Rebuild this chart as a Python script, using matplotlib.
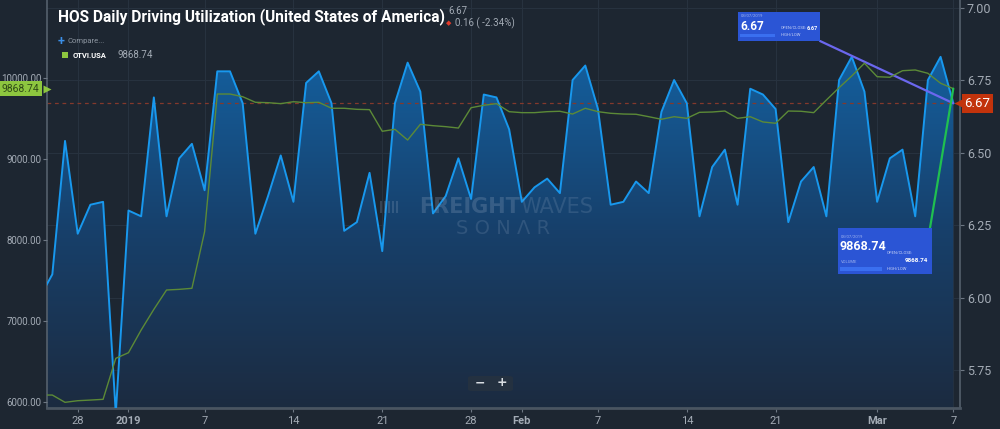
import numpy as np
import pandas as pd
import matplotlib
matplotlib.use('Agg')
import matplotlib.pyplot as plt
import matplotlib.dates as mdates
from matplotlib.colors import LinearSegmentedColormap
from matplotlib.patches import Rectangle, FancyBboxPatch

# data
dates = pd.date_range('2018-12-25', '2019-03-07', freq='D')
hos = [6.00, 6.08, 6.54, 6.22, 6.32, 6.33, 5.60,
       6.30, 6.28, 6.69, 6.28, 6.48, 6.53, 6.37, 6.78, 6.78, 6.67,
       6.22, 6.35, 6.49, 6.33, 6.74, 6.78, 6.67, 6.23, 6.26, 6.43,
       6.16, 6.67, 6.81, 6.71, 6.29, 6.35, 6.48, 6.34, 6.70, 6.69, 6.58,
       6.33, 6.38, 6.41, 6.36, 6.75, 6.80, 6.65, 6.32, 6.33, 6.40,
       6.36, 6.64, 6.75, 6.67, 6.28, 6.45, 6.51, 6.32, 6.72, 6.70,
       6.65, 6.26, 6.40, 6.45, 6.28, 6.75, 6.83, 6.71,
       6.33, 6.48, 6.51, 6.28, 6.75, 6.83, 6.67]
otvi = [6085, 6085, 5995, 6015, 6023, 6032, 6538,
        6608, 6888, 7143, 7382, 7390, 7403, 8102, 9802, 9802, 9769,
        9700, 9695, 9683, 9707, 9695, 9700, 9626, 9626, 9613, 9609,
        9342, 9366, 9234, 9428, 9411, 9399, 9382, 9633, 9663, 9683, 9584,
        9572, 9572, 9584, 9589, 9555, 9626, 9584, 9564, 9555, 9552,
        9522, 9490, 9522, 9502, 9576, 9580, 9592, 9502, 9522, 9457,
        9441, 9592, 9589, 9572, 9728, 9880, 10025, 10182,
        10016, 10009, 10090, 10099, 10058, 9935, 9868.74]
hos_last = 6.67
otvi_last = 9868.74
tick_dates = pd.to_datetime(['2018-12-28', '2019-01-01', '2019-01-07', '2019-01-14',
                             '2019-01-21', '2019-01-28', '2019-02-01', '2019-02-07',
                             '2019-02-14', '2019-02-21', '2019-03-01', '2019-03-07'])
tick_labels = ['28', '2019', '7', '14', '21', '28', 'Feb', '7', '14', '21', 'Mar', '7']
hos_ticks = [5.75, 6.00, 6.25, 6.50, 6.75, 7.00]
otvi_ticks = [6000, 7000, 8000, 9000, 10000]

bg = '#1d2631'
grid_c = '#27323f'
txt_c = '#a3abb5'
plt.rcParams['font.family'] = ['Roboto', 'DejaVu Sans']

x = mdates.date2num(dates)
fig = plt.figure(figsize=(10, 4.29), dpi=100, facecolor=bg)
ax = fig.add_axes([0.047, 1 - 408 / 429, 0.913, 408 / 429])
ax.set_facecolor(bg)
ax2 = ax.twinx()  # OTVI, ticks on the left

xlo, xhi = x[0] + 0.58, x[-1] + 0.53
ylo, yhi = 5.619, 7.026

# gradient filled area for HOS
poly = ax.fill_between(x, hos, ylo - 1, color='none', lw=0)
cmap = LinearSegmentedColormap.from_list('fill', ['#1c2b40', '#17406b', '#14609f'])
grad = np.linspace(0, 1, 256).reshape(-1, 1)
im = ax.imshow(grad, extent=[xlo, xhi, ylo, 6.85], origin='lower', aspect='auto',
               cmap=cmap, zorder=1)
im.set_clip_path(poly.get_paths()[0], transform=ax.transData)
ax.plot(x, hos, color='#1898ee', lw=1.4, zorder=3)

ax.set_xlim(xlo, xhi)
ax.set_ylim(ylo, yhi)
ax.yaxis.tick_right()
ax.set_yticks(hos_ticks)
ax.set_yticklabels([f'{v:.2f}' for v in hos_ticks])
ax.set_xticks(mdates.date2num(tick_dates))
ax.set_xticklabels(tick_labels)
for lab in ax.get_xticklabels():
    if lab.get_text() in ('2019', 'Feb', 'Mar'):
        lab.set_fontweight('bold')
        lab.set_color('#d5dae0')
ax.tick_params(axis='y', colors='#6d7783', labelcolor=txt_c, labelsize=9, length=3, pad=2)
ax.tick_params(axis='x', colors='#6d7783', labelcolor=txt_c, labelsize=8, length=3, pad=3)
ax.grid(True, color=grid_c, lw=0.8, zorder=0)
ax.set_axisbelow(True)
for s in ['left', 'right']:
    ax.spines[s].set_color('#55606c')
    ax.spines[s].set_linewidth(1.2)
ax.spines['bottom'].set_color('#4a5561')
ax.spines['bottom'].set_linewidth(2)
ax.spines['top'].set_visible(False)

# last value dashed line
ax.axhline(hos_last, color='#84392c', lw=0.9, ls=(0, (3, 3)), zorder=2)

# OTVI on the left axis
ax2.plot(x, otvi, color='#5c8a37', lw=1.0, zorder=4)
ax2.set_ylim(5925, 10963)
ax2.yaxis.tick_left()
ax2.yaxis.set_label_position('left')
ax2.set_yticks(otvi_ticks)
ax2.set_yticklabels([f'{v:.2f}' for v in otvi_ticks])
ax2.tick_params(axis='y', colors='#6d7783', labelcolor=txt_c, labelsize=7, length=3, pad=1)
for s in ax2.spines.values():
    s.set_visible(False)
ax2.set_xlim(xlo, xhi)

# value tags
ax2.text(-0.008, otvi_last, f'{otvi_last:.2f}', transform=ax2.get_yaxis_transform(),
         ha='right', va='center', fontsize=7.5, color='#2f4a17', zorder=10,
         bbox=dict(boxstyle='square,pad=0.25', fc='#8dc63f', ec='none'))
ax2.plot([0.0], [otvi_last], marker='>', ms=6, color='#8dc63f', mec='none',
         transform=ax2.get_yaxis_transform(), clip_on=False, zorder=10)
ax.text(1.005, hos_last, f'{hos_last:.2f}', transform=ax.get_yaxis_transform(),
        ha='left', va='center', fontsize=9.5, color='white', zorder=10,
        bbox=dict(boxstyle='square,pad=0.22', fc='#c2330c', ec='none'))
ax.plot([0.999], [hos_last], marker='<', ms=7, color='#c2330c', mec='none',
        transform=ax.get_yaxis_transform(), clip_on=False, zorder=10)

# title and legend
fig.text(0.058, 1 - 17 / 429, 'HOS Daily Driving Utilization (United States of America)',
         fontsize=11.2, fontweight='bold', color='white', va='center')
fig.text(0.448, 1 - 11 / 429, '6.67', fontsize=7, color=txt_c, va='center')
fig.text(0.446, 1 - 23.5 / 429, '\u25c6', fontsize=5, color='#e03a2a', va='center',
         family='DejaVu Sans')
fig.text(0.455, 1 - 23.5 / 429, '0.16 ( -2.34%)', fontsize=7, color=txt_c, va='center')
fig.text(0.058, 1 - 41 / 429, '+', fontsize=9, color='#3b8fe8', va='center', fontweight='bold')
fig.text(0.068, 1 - 41 / 429, 'Compare...', fontsize=5.5, color='#8c95a0', va='center')
fig.patches.append(Rectangle((0.062, 1 - 58 / 429), 0.006, 6 / 429, transform=fig.transFigure,
                             fc='#8dc63f', ec='none'))
fig.text(0.073, 1 - 55 / 429, 'OTVI.USA', fontsize=5.5, color='white', fontweight='bold', va='center')
fig.text(0.117, 1 - 55 / 429, '9868.74', fontsize=7, color=txt_c, va='center')

# watermark
fig.text(0.52, 1 - 207 / 429, 'FREIGHT', fontsize=15, fontweight='bold', color='#8aa0bb',
         alpha=0.28, ha='right', va='center', family=['DejaVu Sans'])
fig.text(0.52, 1 - 207 / 429, 'WAVES', fontsize=15, color='#8aa0bb', alpha=0.22,
         ha='left', va='center', family=['DejaVu Sans'])
fig.text(0.503, 1 - 229 / 429, 'S O N \u039b R', fontsize=14, color='#8aa0bb', alpha=0.22,
         ha='center', va='center', family=['DejaVu Sans'])
for i in range(5):
    fig.patches.append(Rectangle(((380 + i * 4) / 1000, 1 - 213 / 429), 0.0015, 12 / 429,
                                 transform=fig.transFigure, fc='#8aa0bb', alpha=0.25, ec='none'))

# zoom buttons
fig.patches.append(FancyBboxPatch((468 / 1000, 1 - 391 / 429), 45 / 1000, 15 / 429,
                                  boxstyle='round,pad=0,rounding_size=0.004',
                                  transform=fig.transFigure, fc='#243140', ec='none'))
fig.text(0.480, 1 - 383 / 429, '\u2212', fontsize=9, color='#d8dde2', ha='center', va='center',
         family='DejaVu Sans', fontweight='bold')
fig.text(0.502, 1 - 383 / 429, '+', fontsize=9, color='#d8dde2', ha='center', va='center',
         family='DejaVu Sans', fontweight='bold')

# tooltip boxes with connectors
fig.patches.append(Rectangle((738 / 1000, 1 - 41 / 429), 82 / 1000, 29 / 429,
                             transform=fig.transFigure, fc='#2b55d5', ec='none', zorder=20))
fig.text(0.741, 1 - 16 / 429, '03/07/2019', fontsize=3, color='#9fb3ee', va='center', zorder=21)
fig.text(0.740, 1 - 27 / 429, '6.67', fontsize=8.5, color='white', fontweight='bold', va='center', zorder=21)
fig.text(0.781, 1 - 28 / 429, 'OPEN/CLOSE:', fontsize=3, color='#c8d3f5', va='center', zorder=21)
fig.text(0.818, 1 - 28 / 429, '6.67', fontsize=4, color='white', fontweight='bold', ha='right', va='center', zorder=21)
fig.text(0.781, 1 - 35 / 429, 'HIGH/LOW', fontsize=3, color='#c8d3f5', va='center', zorder=21)
fig.patches.append(Rectangle((740 / 1000, 1 - 37 / 429), 35 / 1000, 3 / 429,
                             transform=fig.transFigure, fc='#3a6ff0', ec='none', zorder=21))
ax.annotate('', xy=(x[-1], hos_last), xytext=(820 / 1000, 1 - 41 / 429),
            textcoords='figure fraction',
            arrowprops=dict(arrowstyle='-', color='#6b67ee', lw=1.6, shrinkA=0, shrinkB=0),
            zorder=15, annotation_clip=False)

fig.patches.append(Rectangle((838 / 1000, 1 - 274 / 429), 94 / 1000, 46 / 429,
                             transform=fig.transFigure, fc='#2b55d5', ec='none', zorder=20))
fig.text(0.841, 1 - 237 / 429, '03/07/2019', fontsize=3, color='#9fb3ee', va='center', zorder=21)
fig.text(0.840, 1 - 246 / 429, '9868.74', fontsize=9, color='white', fontweight='bold', va='center', zorder=21)
fig.text(0.887, 1 - 253 / 429, 'OPEN/CLOSE:', fontsize=3, color='#c8d3f5', va='center', zorder=21)
fig.text(0.928, 1 - 261 / 429, '9868.74', fontsize=4.5, color='white', fontweight='bold', ha='right', va='center', zorder=21)
fig.text(0.841, 1 - 262 / 429, 'VOLUME', fontsize=3, color='#9fb3ee', va='center', zorder=21)
fig.text(0.887, 1 - 269 / 429, 'HIGH/LOW', fontsize=3, color='#c8d3f5', va='center', zorder=21)
fig.patches.append(Rectangle((840 / 1000, 1 - 271 / 429), 42 / 1000, 4 / 429,
                             transform=fig.transFigure, fc='#3a6ff0', ec='none', zorder=21))
ax2.annotate('', xy=(x[-1], otvi_last), xytext=(930 / 1000, 1 - 228 / 429),
             textcoords='figure fraction',
             arrowprops=dict(arrowstyle='-', color='#20c050', lw=1.6, shrinkA=0, shrinkB=0),
             zorder=15, annotation_clip=False)

fig.savefig('out.png', dpi=100, facecolor=bg)
